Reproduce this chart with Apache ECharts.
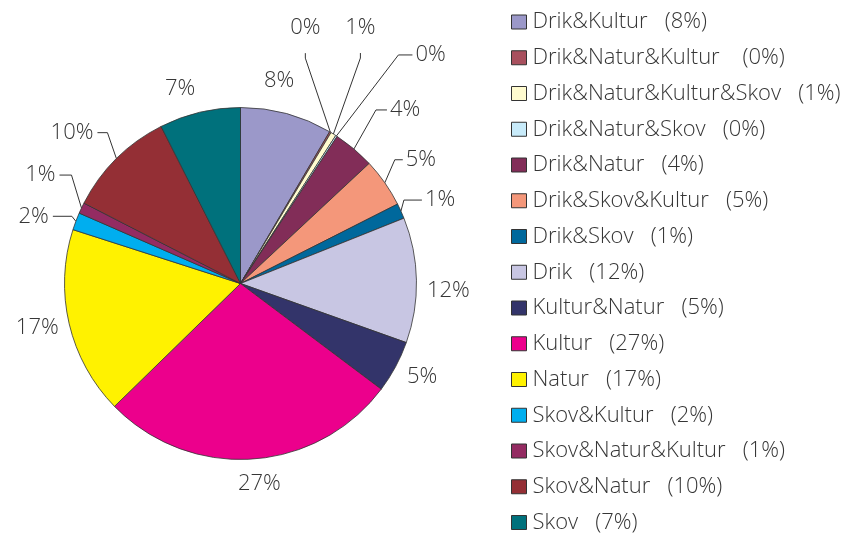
<!DOCTYPE html>
<html>
<head>
<meta charset="utf-8">
<script src="https://cdn.jsdelivr.net/npm/echarts@6/dist/echarts.min.js"></script>
<style>
  html, body { margin: 0; padding: 0; background: #ffffff; }
  #chart { width: 856px; height: 535px; }
</style>
</head>
<body>
<div id="chart"></div>
<script>
// Interest combinations and their share of answers (percent)
const categories = [
  'Drik&Kultur', 'Drik&Natur&Kultur', 'Drik&Natur&Kultur&Skov', 'Drik&Natur&Skov',
  'Drik&Natur', 'Drik&Skov&Kultur', 'Drik&Skov', 'Drik', 'Kultur&Natur', 'Kultur',
  'Natur', 'Skov&Kultur', 'Skov&Natur&Kultur', 'Skov&Natur', 'Skov'
];
const shares = [8.45, 0.15, 0.5, 0.15, 3.8, 4.5, 1.4, 11.5, 4.8, 27.45, 17.25, 1.6, 1.0, 10.0, 7.45];
const colors = [
  '#9b98c9', '#a8505e', '#fffbcf', '#c8ebfa', '#822d58', '#f4977a', '#00689c', '#c8c6e3',
  '#33346a', '#ec008c', '#fff200', '#00aeef', '#942b62', '#942f35', '#00717c'
];

// Pie geometry
const CX = 240.5, CY = 283.5, R = 176;
const FONT = 'Open Sans';
const TEXT_COLOR = '#363636';

const total = shares.reduce((a, b) => a + b, 0);
function pct(v) { return Math.round(+(v / total * 100).toFixed(6)); }

// mid angle of each slice, degrees clockwise from 12 o'clock
const mids = [];
(function () {
  let acc = 0;
  shares.forEach(v => { mids.push((acc + v / 2) / total * 360); acc += v; });
})();

// Labels sitting just outside the rim: small angular nudge and distance from the rim
const rimLabels = {
  'Drik&Kultur': { turn: -4.4, gap: 30 },
  'Drik': { turn: 3.2, gap: 32 },
  'Kultur&Natur': { turn: -1.2, gap: 28 },
  'Kultur': { turn: -1.7, gap: 25 },
  'Natur': { turn: 0.9, gap: 32 },
  'Skov': { turn: -3.8, gap: 28 }
};
// Labels with a leader line: elbow offset from the rim point, tail segment, side of the text
const leaders = {
  'Drik&Natur&Kultur': { bend: [-25, -74], tail: [0, -5], side: 'top' },
  'Drik&Natur&Kultur&Skov': { bend: [27, -76], tail: [0, -5], side: 'top' },
  'Drik&Natur&Skov': { bend: [62, -81], tail: [14, 0], side: 'right' },
  'Drik&Natur': { bend: [22, -39], tail: [11, 0], side: 'right' },
  'Drik&Skov&Kultur': { bend: [10, -23], tail: [8, 0], side: 'right' },
  'Drik&Skov': { bend: [3, -11], tail: [18, 0], side: 'right' },
  'Skov&Kultur': { bend: [-4, -5], tail: [-19, 0], side: 'left' },
  'Skov&Natur&Kultur': { bend: [-10, -33], tail: [-12, 0], side: 'left' },
  'Skov&Natur': { bend: [-9, -26], tail: [-10, 0], side: 'left' }
};
// Extra spacing before the percentage in the legend
const legendSpacing = { 'Drik&Natur&Kultur': '    ' };

function placeLabel(p) {
  const i = p.dataIndex;
  const name = categories[i];
  const a = mids[i] * Math.PI / 180;
  const ex = CX + R * Math.sin(a), ey = CY - R * Math.cos(a);
  const lead = leaders[name];
  if (lead) {
    const bx = ex + lead.bend[0], by = ey + lead.bend[1];
    const tx = bx + lead.tail[0], ty = by + lead.tail[1];
    let out;
    if (lead.side === 'top') out = { x: tx, y: ty - 25, align: 'center', verticalAlign: 'middle' };
    else if (lead.side === 'right') out = { x: tx + 3, y: ty, align: 'left', verticalAlign: 'middle' };
    else out = { x: tx - 4, y: ty, align: 'right', verticalAlign: 'middle' };
    out.labelLinePoints = [[ex, ey], [bx, by], [tx, ty]];
    return out;
  }
  const rim = rimLabels[name];
  const b = (mids[i] + rim.turn) * Math.PI / 180;
  const d = R + rim.gap;
  return { x: CX + d * Math.sin(b), y: CY - d * Math.cos(b), align: 'center', verticalAlign: 'middle' };
}

const chart = echarts.init(document.getElementById('chart'), null, { renderer: 'canvas' });
chart.setOption({
  animation: false,
  color: colors,
  legend: {
    orient: 'vertical',
    left: 511,
    top: 11,
    padding: 0,
    itemWidth: 15,
    itemHeight: 14,
    itemGap: 13.75,
    icon: 'rect',
    selectedMode: false,
    itemStyle: { borderColor: '#333333', borderWidth: 1 },
    textStyle: { fontFamily: FONT, fontWeight: 300, fontSize: 22, color: TEXT_COLOR, lineHeight: 22, padding: [0, 0, 0, 1] },
    formatter: name => name + (legendSpacing[name] || '   ') + '(' + pct(shares[categories.indexOf(name)]) + '%)'
  },
  series: [{
    type: 'pie',
    center: [CX, CY],
    radius: R,
    startAngle: 90,
    clockwise: true,
    avoidLabelOverlap: false,
    emphasis: { disabled: true },
    itemStyle: { borderColor: '#333333', borderWidth: 0.8 },
    label: {
      show: true,
      position: 'outside',
      fontFamily: FONT,
      fontWeight: 300,
      fontSize: 22,
      color: TEXT_COLOR,
      formatter: p => pct(p.value) + '%'
    },
    labelLine: { show: true, smooth: false, lineStyle: { color: '#333333', width: 1 } },
    labelLayout: placeLabel,
    data: categories.map((n, i) => ({
      name: n,
      value: shares[i],
      labelLine: { show: !!leaders[n] }
    }))
  }]
});
</script>
</body>
</html>
